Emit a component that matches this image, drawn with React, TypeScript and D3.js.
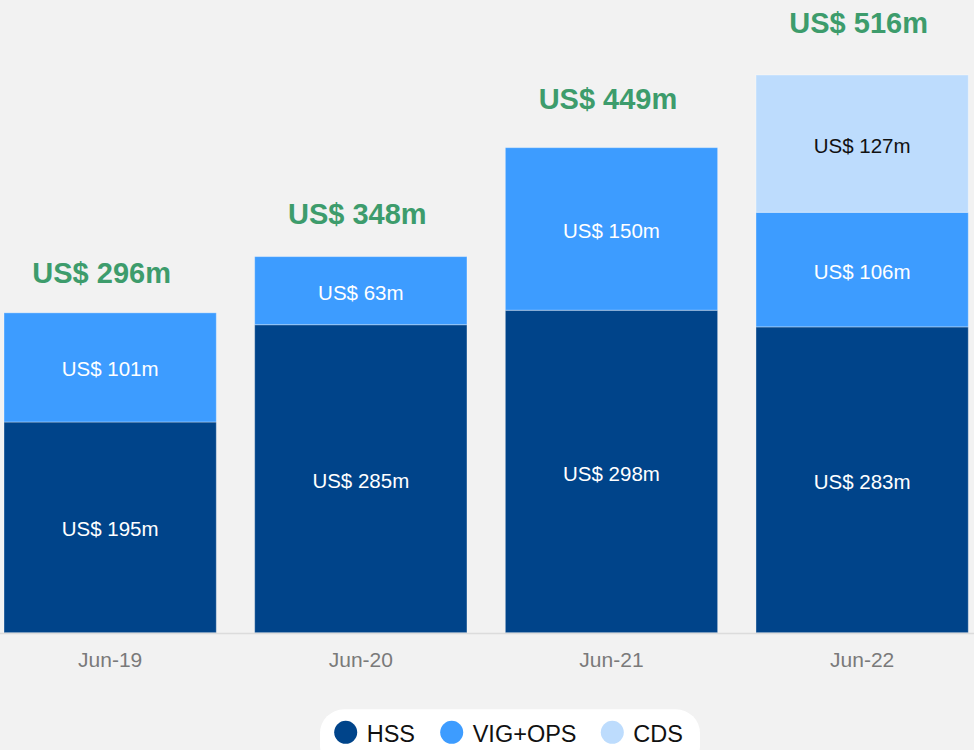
import React from "react";
import * as d3 from "d3";

const categories = ["Jun-19", "Jun-20", "Jun-21", "Jun-22"];
const hss = [195, 285, 298.4, 283];
const vig = [101, 63, 150.4, 106];
const cds = [0, 0, 0, 127];
const seriesNames = ["HSS", "VIG+OPS", "CDS"];
const seriesColors = ["#00448a", "#3d9cff", "#bddcfd"];
const labelColors = ["#ffffff", "#ffffff", "#111111"];

const W = 974;
const H = 750;

export default function App() {
  const rows = categories.map((c, i) => ({ cat: c, HSS: hss[i], "VIG+OPS": vig[i], CDS: cds[i] }));
  const stack = d3.stack<any>().keys(seriesNames)(rows);
  const totals = rows.map((r) => r.HSS + r["VIG+OPS"] + r.CDS);

  const x = d3.scaleBand<string>().domain(categories).range([4, 968.3]).paddingInner(0.153).paddingOuter(0);
  const y = d3.scaleLinear().domain([0, 516]).range([632.8, 75]);
  const yLabel = d3.scaleLinear().domain([296, 516]).range([283, 33]);

  const fmt = (v: number) => `US$ ${Math.round(v)}m`;
  const font = "'Liberation Sans', Arial, Helvetica, sans-serif";

  const legendItems = [
    { name: "HSS", cx: 345.7 },
    { name: "VIG+OPS", cx: 451.7 },
    { name: "CDS", cx: 612.3 },
  ];

  return (
    <svg width={W} height={H} style={{ position: "fixed", left: 0, top: 0, fontFamily: font }}>
      <rect x={0} y={0} width={W} height={H} fill="#f2f2f2" />
      {stack.map((layer, si) => (
        <g key={layer.key}>
          {layer.map((d, i) => {
            const h = y(d[0]) - y(d[1]);
            if (h <= 0) return null;
            return (
              <g key={i}>
                <rect
                  x={x(categories[i])!}
                  y={y(d[1])}
                  width={x.bandwidth()}
                  height={h}
                  fill={seriesColors[si]}
                  stroke="rgba(255,255,255,0.35)"
                  strokeWidth={1}
                />
                <text
                  x={x(categories[i])! + x.bandwidth() / 2}
                  y={(y(d[0]) + y(d[1])) / 2}
                  dy="0.44em"
                  textAnchor="middle"
                  fontSize={20.5}
                  fill={labelColors[si]}
                >
                  {fmt(d[1] - d[0])}
                </text>
              </g>
            );
          })}
        </g>
      ))}
      <line x1={0} x2={W} y1={633.5} y2={633.5} stroke="#dcdcdc" strokeWidth={1.5} />
      {categories.map((c, i) => (
        <text key={c} x={x(c)! + x.bandwidth() / 2} y={666.5} textAnchor="middle" fontSize={21} fill="#7a7a7a">
          {c}
        </text>
      ))}
      {totals.map((t, i) => (
        <text
          key={i}
          x={x(categories[i])! + x.bandwidth() / 2 - (i === 0 ? 8.5 : 3.5)}
          y={yLabel(t)}
          textAnchor="middle"
          fontSize={29}
          fontWeight="bold"
          fill="#3d9c6c"
        >
          {fmt(t)}
        </text>
      ))}
      <rect x={320} y={709.3} width={380} height={60} rx={24} ry={24} fill="#ffffff" />
      {legendItems.map((it, i) => (
        <g key={it.name}>
          <circle cx={it.cx} cy={732.3} r={11.5} fill={seriesColors[i]} />
          <text x={it.cx + 21} y={741.7} fontSize={23.5} fill="#111111">
            {it.name}
          </text>
        </g>
      ))}
    </svg>
  );
}
